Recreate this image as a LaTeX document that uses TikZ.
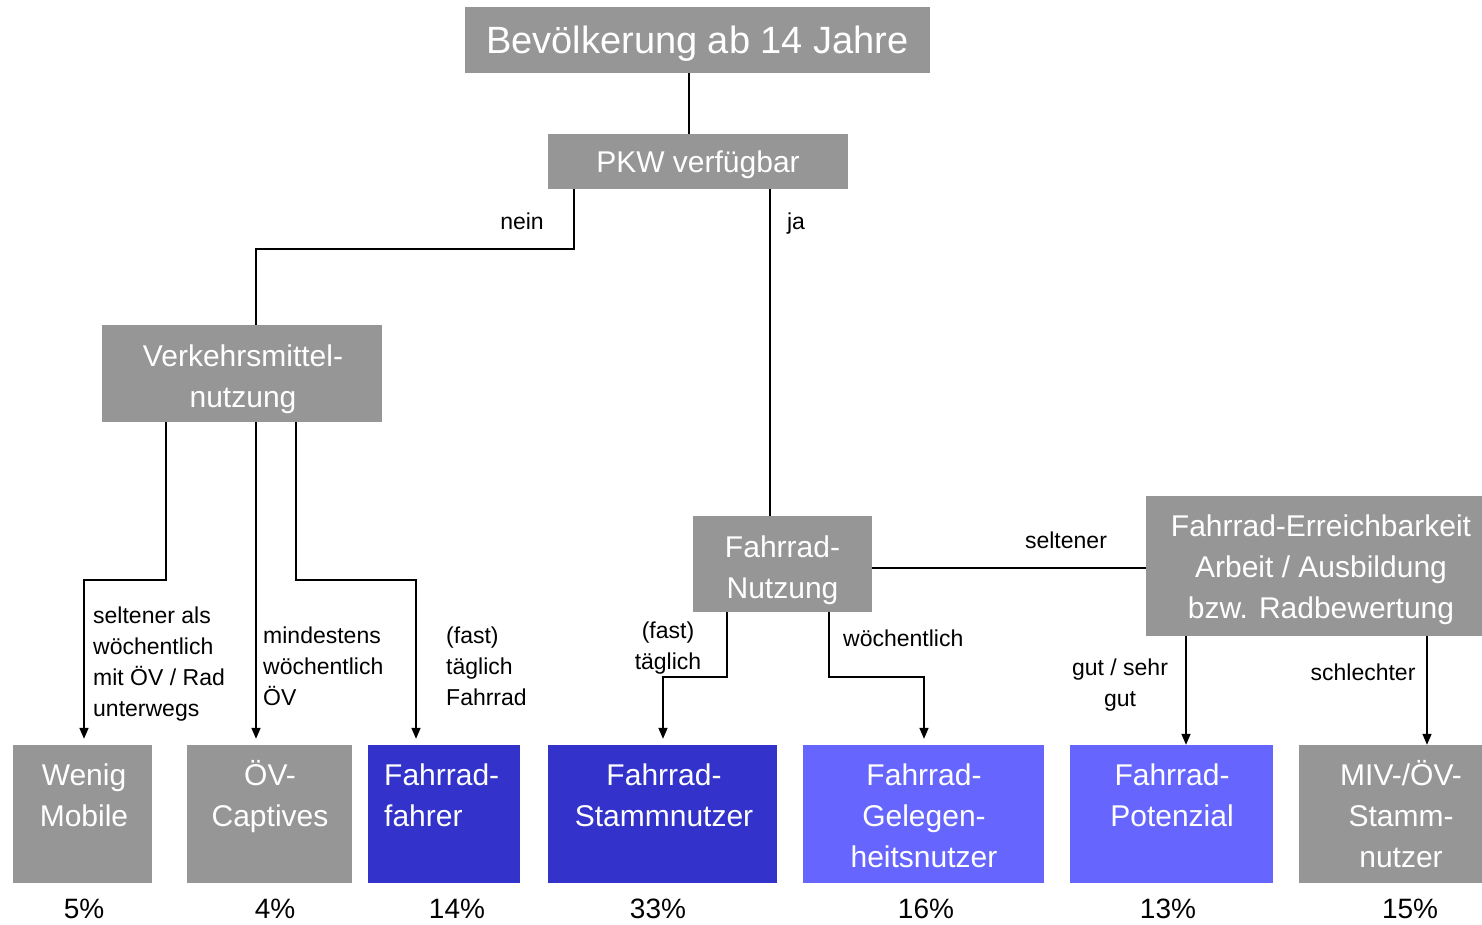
\documentclass[tikz,border=0pt]{standalone}
\usepackage{fontspec}
\setmainfont{Liberation Sans}
\usetikzlibrary{arrows.meta,calc}
\definecolor{boxgray}{RGB}{150,150,150}
\definecolor{dblue}{RGB}{51,51,204}
\definecolor{lblue}{RGB}{102,102,255}
\newcommand\lblfont{\fontsize{23}{31}\selectfont}
\newcommand\boxfont{\fontsize{30}{41}\selectfont}
\begin{document}
\begin{tikzpicture}[x=1pt,y=-1pt,
  gbox/.style={fill=boxgray,inner sep=0pt,text=white},
  bbox/.style={fill=dblue,inner sep=0pt,text=white},
  lbox/.style={fill=lblue,inner sep=0pt,text=white},
  btxt/.style={inner sep=0pt,text=white,align=center,font=\boxfont,anchor=base},
  lbl/.style={inner sep=0pt,font=\lblfont},
  pct/.style={inner sep=0pt,font=\fontsize{28}{32}\selectfont,anchor=base},
  conn/.style={line width=1.5pt},
  thickconn/.style={line width=2pt},
  arr/.style={conn,-{Triangle[length=11pt,width=9pt]}},
]
\useasboundingbox (0,0) rectangle (1482,924);
% helper x-coordinates
\coordinate (x84) at (84,0);
\coordinate (x166) at (166,0);
\coordinate (x256) at (256,0);
\coordinate (x296) at (296,0);
\coordinate (x416) at (416,0);
\coordinate (x574) at (574,0);
\coordinate (x663) at (663,0);
\coordinate (x689) at (689,0);
\coordinate (x727) at (727,0);
\coordinate (x770) at (770,0);
\coordinate (x829) at (829,0);
\coordinate (x924) at (924,0);
\coordinate (x1186) at (1186,0);
\coordinate (x1427) at (1427,0);
\coordinate (y568) at (0,568);

% upper boxes
\node[gbox,text height=27.4pt,text depth=0pt,minimum width=465pt,minimum height=66pt,font=\fontsize{38}{42}\selectfont] (top) at (697.5,40)
  {Bevölkerung ab 14 Jahre};
\node[gbox,text height=21.6pt,text depth=0pt,minimum width=300pt,minimum height=55pt,font=\boxfont] (pkw) at (698,161.5)
  {PKW verfügbar};
\node[gbox,minimum width=280pt,minimum height=97pt] (vm) at (242,373.5) {};
\node[btxt] (vmt) at (243,407) {Verkehrsmittel-\\nutzung};
\node[gbox,minimum width=179pt,minimum height=96pt] (fn) at (782.5,564) {};
\node[btxt] (fnt) at (782.5,598) {Fahrrad-\\Nutzung};
\node[gbox,minimum width=336pt,minimum height=140pt] (fe) at (1314,566) {};
\node[btxt] (fet) at (1321,618) {Fahrrad-Erreichbarkeit\\Arbeit / Ausbildung\\bzw. Radbewertung};

% bottom boxes
\node[gbox,minimum width=139pt,minimum height=138pt] (wm) at (82.5,814) {};
\node[btxt] (wmt) at (84,826) {Wenig\\Mobile};
\node[gbox,minimum width=165pt,minimum height=138pt] (oc) at (269.5,814) {};
\node[btxt] (oct) at (270,826) {ÖV-\\Captives};
\node[bbox,minimum width=152pt,minimum height=138pt] (ff) at (444,814) {};
\node[btxt,align=left,anchor=base west] (fft) at (384,826) {Fahrrad-\\fahrer};
\node[bbox,minimum width=229pt,minimum height=138pt] (fs) at (662.5,814) {};
\node[btxt] (fst) at (664,826) {Fahrrad-\\Stammnutzer};
\node[lbox,minimum width=241pt,minimum height=138pt] (fg) at (923.5,814) {};
\node[btxt] (fgt) at (924,867) {Fahrrad-\\Gelegen-\\heitsnutzer};
\node[lbox,minimum width=203pt,minimum height=138pt] (fp) at (1171.5,814) {};
\node[btxt] (fpt) at (1172,826) {Fahrrad-\\Potenzial};
\node[gbox,minimum width=183pt,minimum height=138pt] (mv) at (1390.5,814) {};
\node[btxt] (mvt) at (1401,867) {MIV-/ÖV-\\Stamm-\\nutzer};

% percentages
\node[pct] (p1) at (84,918) {5\%};
\node[pct] (p2) at (275,918) {4\%};
\node[pct] (p3) at (457,918) {14\%};
\node[pct] (p4) at (658,918) {33\%};
\node[pct] (p5) at (926,918) {16\%};
\node[pct] (p6) at (1168,918) {13\%};
\node[pct] (p7) at (1410,918) {15\%};

% connectors
\draw[thickconn] (top.south -| x689) -- (pkw.north -| x689);
\draw[thickconn] (pkw.south -| x574) -- ++(0,60) -| (vm.north -| x256);
\draw[conn] (pkw.south -| x770) -- (fn.north -| x770);
\draw[arr,shorten >=6pt] (vm.south -| x166) -- ++(0,158) -| (wm.north -| x84);
\draw[arr,shorten >=6pt] (vm.south -| x256) -- (oc.north -| x256);
\draw[arr,shorten >=6pt] (vm.south -| x296) -- ++(0,158) -| (ff.north -| x416);
\draw[arr,shorten >=6pt] (fn.south -| x727) -- ++(0,65) -| (fs.north -| x663);
\draw[arr,shorten >=6pt] (fn.south -| x829) -- ++(0,65) -| (fg.north -| x924);
\draw[thickconn] (fn.east |- y568) -- (fe.west |- y568);
\draw[arr] (fe.south -| x1186) -- (fp.north -| x1186);
\draw[arr] (fe.south -| x1427) -- (mv.north -| x1427);

% labels
\node[lbl,anchor=base] (lnein) at (522,229) {nein};
\node[lbl,anchor=base] (lja) at (796,229) {ja};
\node[lbl,anchor=base west,align=left] (l1) at (93,716) {seltener als\\wöchentlich\\mit ÖV / Rad\\unterwegs};
\node[lbl,anchor=base west,align=left] (l2) at (263,705) {mindestens\\wöchentlich\\ÖV};
\node[lbl,anchor=base west,align=left] (l3) at (446,705) {(fast)\\täglich\\Fahrrad};
\node[lbl,anchor=base,align=center] (l4) at (668,669) {(fast)\\täglich};
\node[lbl,anchor=base west] (l5) at (843,646) {wöchentlich};
\node[lbl,anchor=base] (l6) at (1066,548) {seltener};
\node[lbl,anchor=base,align=center] (l7) at (1120,706) {gut / sehr\\gut};
\node[lbl,anchor=base] (l8) at (1363,680) {schlechter};
\end{tikzpicture}
\end{document}
